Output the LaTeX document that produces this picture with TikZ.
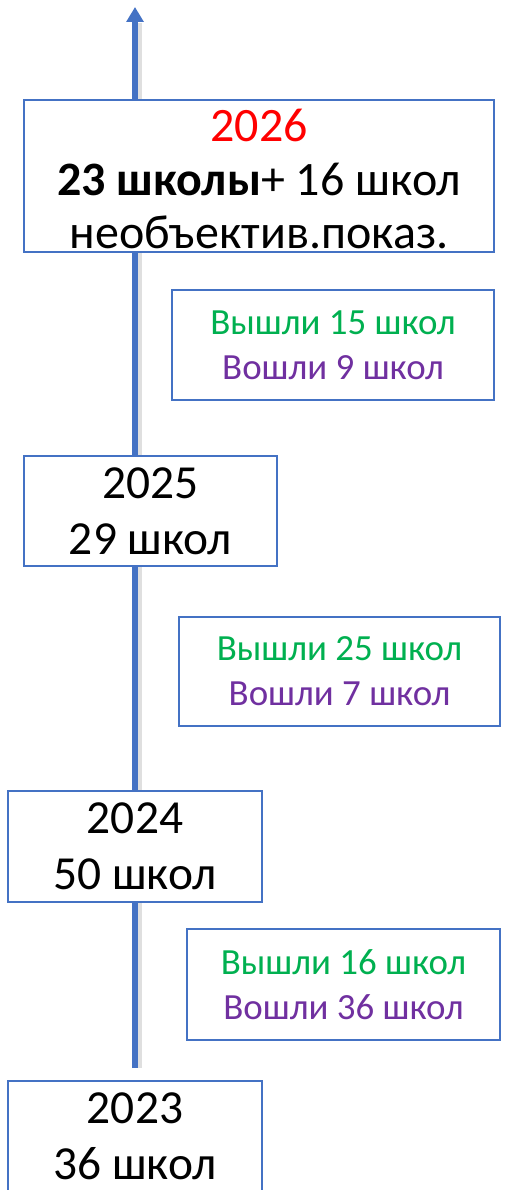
\documentclass[tikz,border=0pt]{standalone}
\usepackage{fontspec}
\setmainfont{Carlito}
\usetikzlibrary{arrows.meta}
\definecolor{lineblue}{HTML}{4472C4}
\definecolor{outgreen}{HTML}{00B050}
\definecolor{inpurple}{HTML}{7030A0}

\begin{document}
\begin{tikzpicture}[x=0.02cm,y=-0.02cm,
  yearbox/.style={draw=lineblue,line width=1.4pt,fill=white,inner sep=0pt,align=center,font=\fontsize{27}{31.7}\selectfont},
  flowbox/.style={draw=lineblue,line width=1.4pt,fill=white,inner sep=0pt,align=center,font=\fontsize{21}{25.5}\selectfont}]

\useasboundingbox (0,0) rectangle (510,1190);

\coordinate (base) at (135,1068);
\coordinate (tip) at (135,7);

\draw [gray,opacity=0.25,line width=2.6pt] ([xshift=2.8pt]base) -- ([xshift=2.8pt,yshift=-9pt]tip);
\draw [lineblue,line width=3.6pt,-{Triangle[length=8.5pt,width=9.5pt]}] (base) -- (tip);

\node [yearbox,minimum width=9.4cm,minimum height=3.04cm,font=\fontsize{27.3}{30.6}\selectfont] (y2026) at (259,176) {\rule{0pt}{22pt}\textcolor{red}{2026}\\\textbf{23 школы}+ 16 школ\\необъектив.показ.};
\node [flowbox,minimum width=6.44cm,minimum height=2.2cm] (flow1) at (333,345) {\textcolor{outgreen}{Вышли 15 школ}\\\textcolor{inpurple}{Вошли 9 школ}};
\node [yearbox,minimum width=5.06cm,minimum height=2.2cm] (y2025) at (150.5,511) {2025\\29 школ};
\node [flowbox,minimum width=6.42cm,minimum height=2.18cm] (flow2) at (339.5,671.5) {\textcolor{outgreen}{Вышли 25 школ}\\\textcolor{inpurple}{Вошли 7 школ}};
\node [yearbox,minimum width=5.08cm,minimum height=2.22cm] (y2024) at (135,846.5) {2024\\50 школ};
\node [flowbox,minimum width=6.26cm,minimum height=2.22cm] (flow3) at (343.5,984.5) {\textcolor{outgreen}{Вышли 16 школ}\\\textcolor{inpurple}{Вошли 36 школ}};
\node [yearbox,minimum width=5.08cm,minimum height=2.22cm] (y2023) at (135,1136.5) {2023\\36 школ};

\end{tikzpicture}
\end{document}
